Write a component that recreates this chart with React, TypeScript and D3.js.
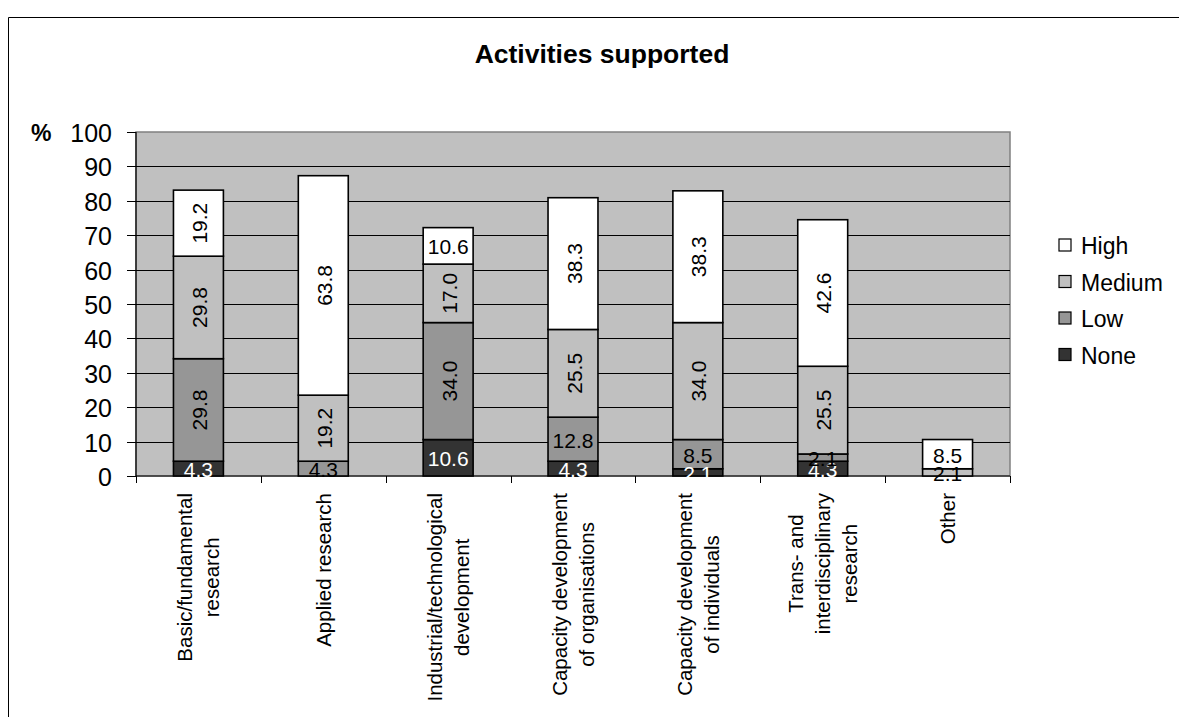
import React from "react";
import * as d3 from "d3";

// Activity categories (each entry holds the lines of its axis label)
const categories: string[][] = [
  ["Basic/fundamental", "research"],
  ["Applied research"],
  ["Industrial/technological", "development"],
  ["Capacity development", "of organisations"],
  ["Capacity development", "of individuals"],
  ["Trans- and", "interdisciplinary", "research"],
  ["Other"],
];

// Share of respondents (%) per level of support
const noneValues = [4.3, 0, 10.6, 4.3, 2.1, 4.3, 0];
const lowValues = [29.8, 4.3, 34.0, 12.8, 8.5, 2.1, 0];
const mediumValues = [29.8, 19.2, 17.0, 25.5, 34.0, 25.5, 2.1];
const highValues = [19.2, 63.8, 10.6, 38.3, 38.3, 42.6, 8.5];

const seriesKeys = ["None", "Low", "Medium", "High"];
const legendOrder = ["High", "Medium", "Low", "None"];
const yTicks = [0, 10, 20, 30, 40, 50, 60, 70, 80, 90, 100];

const colors: Record<string, string> = {
  High: "#ffffff",
  Medium: "#c0c0c0",
  Low: "#969696",
  None: "#333333",
};

const FONT = "'Liberation Sans', Arial, Helvetica, sans-serif";

const rows = categories.map((c, i) => ({
  key: c.join(" "),
  None: noneValues[i],
  Low: lowValues[i],
  Medium: mediumValues[i],
  High: highValues[i],
}));

// Plot frame
const plot = { left: 136, right: 1010, top: 132, bottom: 476 };

const xScale = d3
  .scaleBand<string>()
  .domain(rows.map((r) => r.key))
  .range([plot.left, plot.right])
  .paddingInner(0.6)
  .paddingOuter(0.3);

const yScale = d3.scaleLinear().domain([0, 100]).range([plot.bottom, plot.top]);

const stacked = d3.stack<any>().keys(seriesKeys)(rows);

let measureCtx: CanvasRenderingContext2D | null = null;
function textWidth(s: string, size: number, weight = "normal"): number {
  if (!measureCtx) {
    measureCtx = document.createElement("canvas").getContext("2d");
  }
  if (!measureCtx) return s.length * size * 0.5;
  measureCtx.font = `${weight} ${size}px ${FONT}`;
  return measureCtx.measureText(s).width;
}

type STextProps = {
  x: number;
  y: number;
  rotate?: number;
  size: number;
  weight?: string;
  anchor?: string;
  baseline?: string;
  fill?: string;
  children: React.ReactNode;
};

function SText({ x, y, rotate, size, weight = "normal", anchor = "start", baseline = "auto", fill = "#000", children }: STextProps) {
  const t = `translate(${x},${y})${rotate ? ` rotate(${rotate})` : ""}`;
  return (
    <text
      transform={t}
      fontFamily={FONT}
      fontSize={size}
      fontWeight={weight}
      textAnchor={anchor}
      dominantBaseline={baseline}
      fill={fill}
    >
      {children}
    </text>
  );
}

export default function App() {
  const bw = xScale.bandwidth();
  const slot = (plot.right - plot.left) / categories.length;
  const boundaries = d3.range(categories.length + 1).map((i) => plot.left + i * slot);

  return (
    <svg
      width={1179}
      height={717}
      style={{ position: "absolute", left: 0, top: 0, background: "#fff" }}
    >
      {/* chart area border */}
      <path d="M8.5,717 V17.5 H1179" fill="none" stroke="#000" strokeWidth={1} />

      {/* title */}
      <SText x={602} y={63} size={26.5} weight="bold" anchor="middle">
        Activities supported
      </SText>

      {/* plot background */}
      <rect
        x={plot.left}
        y={plot.top}
        width={plot.right - plot.left}
        height={plot.bottom - plot.top}
        fill="#c0c0c0"
        stroke="#808080"
        strokeWidth={1.5}
      />

      {/* gridlines */}
      {yTicks
        .filter((t) => t > 0 && t < 100)
        .map((t) => (
          <line
            key={`g${t}`}
            x1={plot.left}
            x2={plot.right}
            y1={Math.round(yScale(t)) + 0.5}
            y2={Math.round(yScale(t)) + 0.5}
            stroke="#000"
            strokeWidth={1}
          />
        ))}

      {/* y axis */}
      <line x1={plot.left} x2={plot.left} y1={plot.top} y2={plot.bottom} stroke="#000" strokeWidth={1.2} />
      {yTicks.map((t) => (
        <g key={`t${t}`}>
          <line
            x1={plot.left - 9}
            x2={plot.left}
            y1={Math.round(yScale(t)) + 0.5}
            y2={Math.round(yScale(t)) + 0.5}
            stroke="#000"
            strokeWidth={1}
          />
          <SText x={112} y={yScale(t) + 1} size={25} anchor="end" baseline="central">
            {t}
          </SText>
        </g>
      ))}
      <SText x={31} y={yScale(100) + 1} size={23} weight="bold" baseline="central">
        %
      </SText>

      {/* x axis */}
      <line x1={plot.left} x2={plot.right} y1={plot.bottom} y2={plot.bottom} stroke="#000" strokeWidth={1.2} />
      {boundaries.map((bx, i) => (
        <line
          key={`xt${i}`}
          x1={Math.round(bx) + 0.5}
          x2={Math.round(bx) + 0.5}
          y1={plot.bottom}
          y2={plot.bottom + 7}
          stroke="#000"
          strokeWidth={1}
        />
      ))}

      {/* stacked bars */}
      {stacked.map((layer) => (
        <g key={layer.key}>
          {layer.map((d, i) => {
            const v = d[1] - d[0];
            if (v <= 0) return null;
            const x = xScale(rows[i].key) as number;
            return (
              <rect
                key={i}
                x={x}
                y={yScale(d[1])}
                width={bw}
                height={yScale(d[0]) - yScale(d[1])}
                fill={colors[layer.key]}
                stroke="#000"
                strokeWidth={1.6}
              />
            );
          })}
        </g>
      ))}

      {/* value labels */}
      {stacked.map((layer) => (
        <g key={`l${layer.key}`}>
          {layer.map((d, i) => {
            const v = d[1] - d[0];
            if (v <= 0) return null;
            const cx = (xScale(rows[i].key) as number) + bw / 2;
            const cy = (yScale(d[0]) + yScale(d[1])) / 2;
            const h = yScale(d[0]) - yScale(d[1]);
            const rotated = h > 48;
            const fill = layer.key === "None" ? "#fff" : "#000";
            return (
              <SText
                key={i}
                x={cx + (rotated ? 1 : 0)}
                y={cy + (rotated ? 0 : 1)}
                size={21}
                rotate={rotated ? -90 : undefined}
                anchor="middle"
                baseline="central"
                fill={fill}
              >
                {v.toFixed(1)}
              </SText>
            );
          })}
        </g>
      ))}

      {/* category labels */}
      {categories.map((lines, i) => {
        const cx = (xScale(rows[i].key) as number) + bw / 2;
        const maxLen = Math.max(...lines.map((l) => textWidth(l, 20.5)));
        const cy = 493 + maxLen / 2;
        return (
          <g key={`c${i}`}>
            {lines.map((l, j) => (
              <SText
                key={j}
                x={cx + (j - (lines.length - 1) / 2) * 27}
                y={cy}
                size={20.5}
                rotate={-90}
                anchor="middle"
                baseline="central"
              >
                {l}
              </SText>
            ))}
          </g>
        );
      })}

      {/* legend */}
      {legendOrder.map((k, i) => {
        const cy = 245 + i * 36.5;
        return (
          <g key={`lg${k}`}>
            <rect x={1059} y={cy - 6} width={12} height={12} fill={colors[k]} stroke="#000" strokeWidth={1.2} />
            <SText x={1081} y={cy + 1} size={23} baseline="central">
              {k}
            </SText>
          </g>
        );
      })}
    </svg>
  );
}
